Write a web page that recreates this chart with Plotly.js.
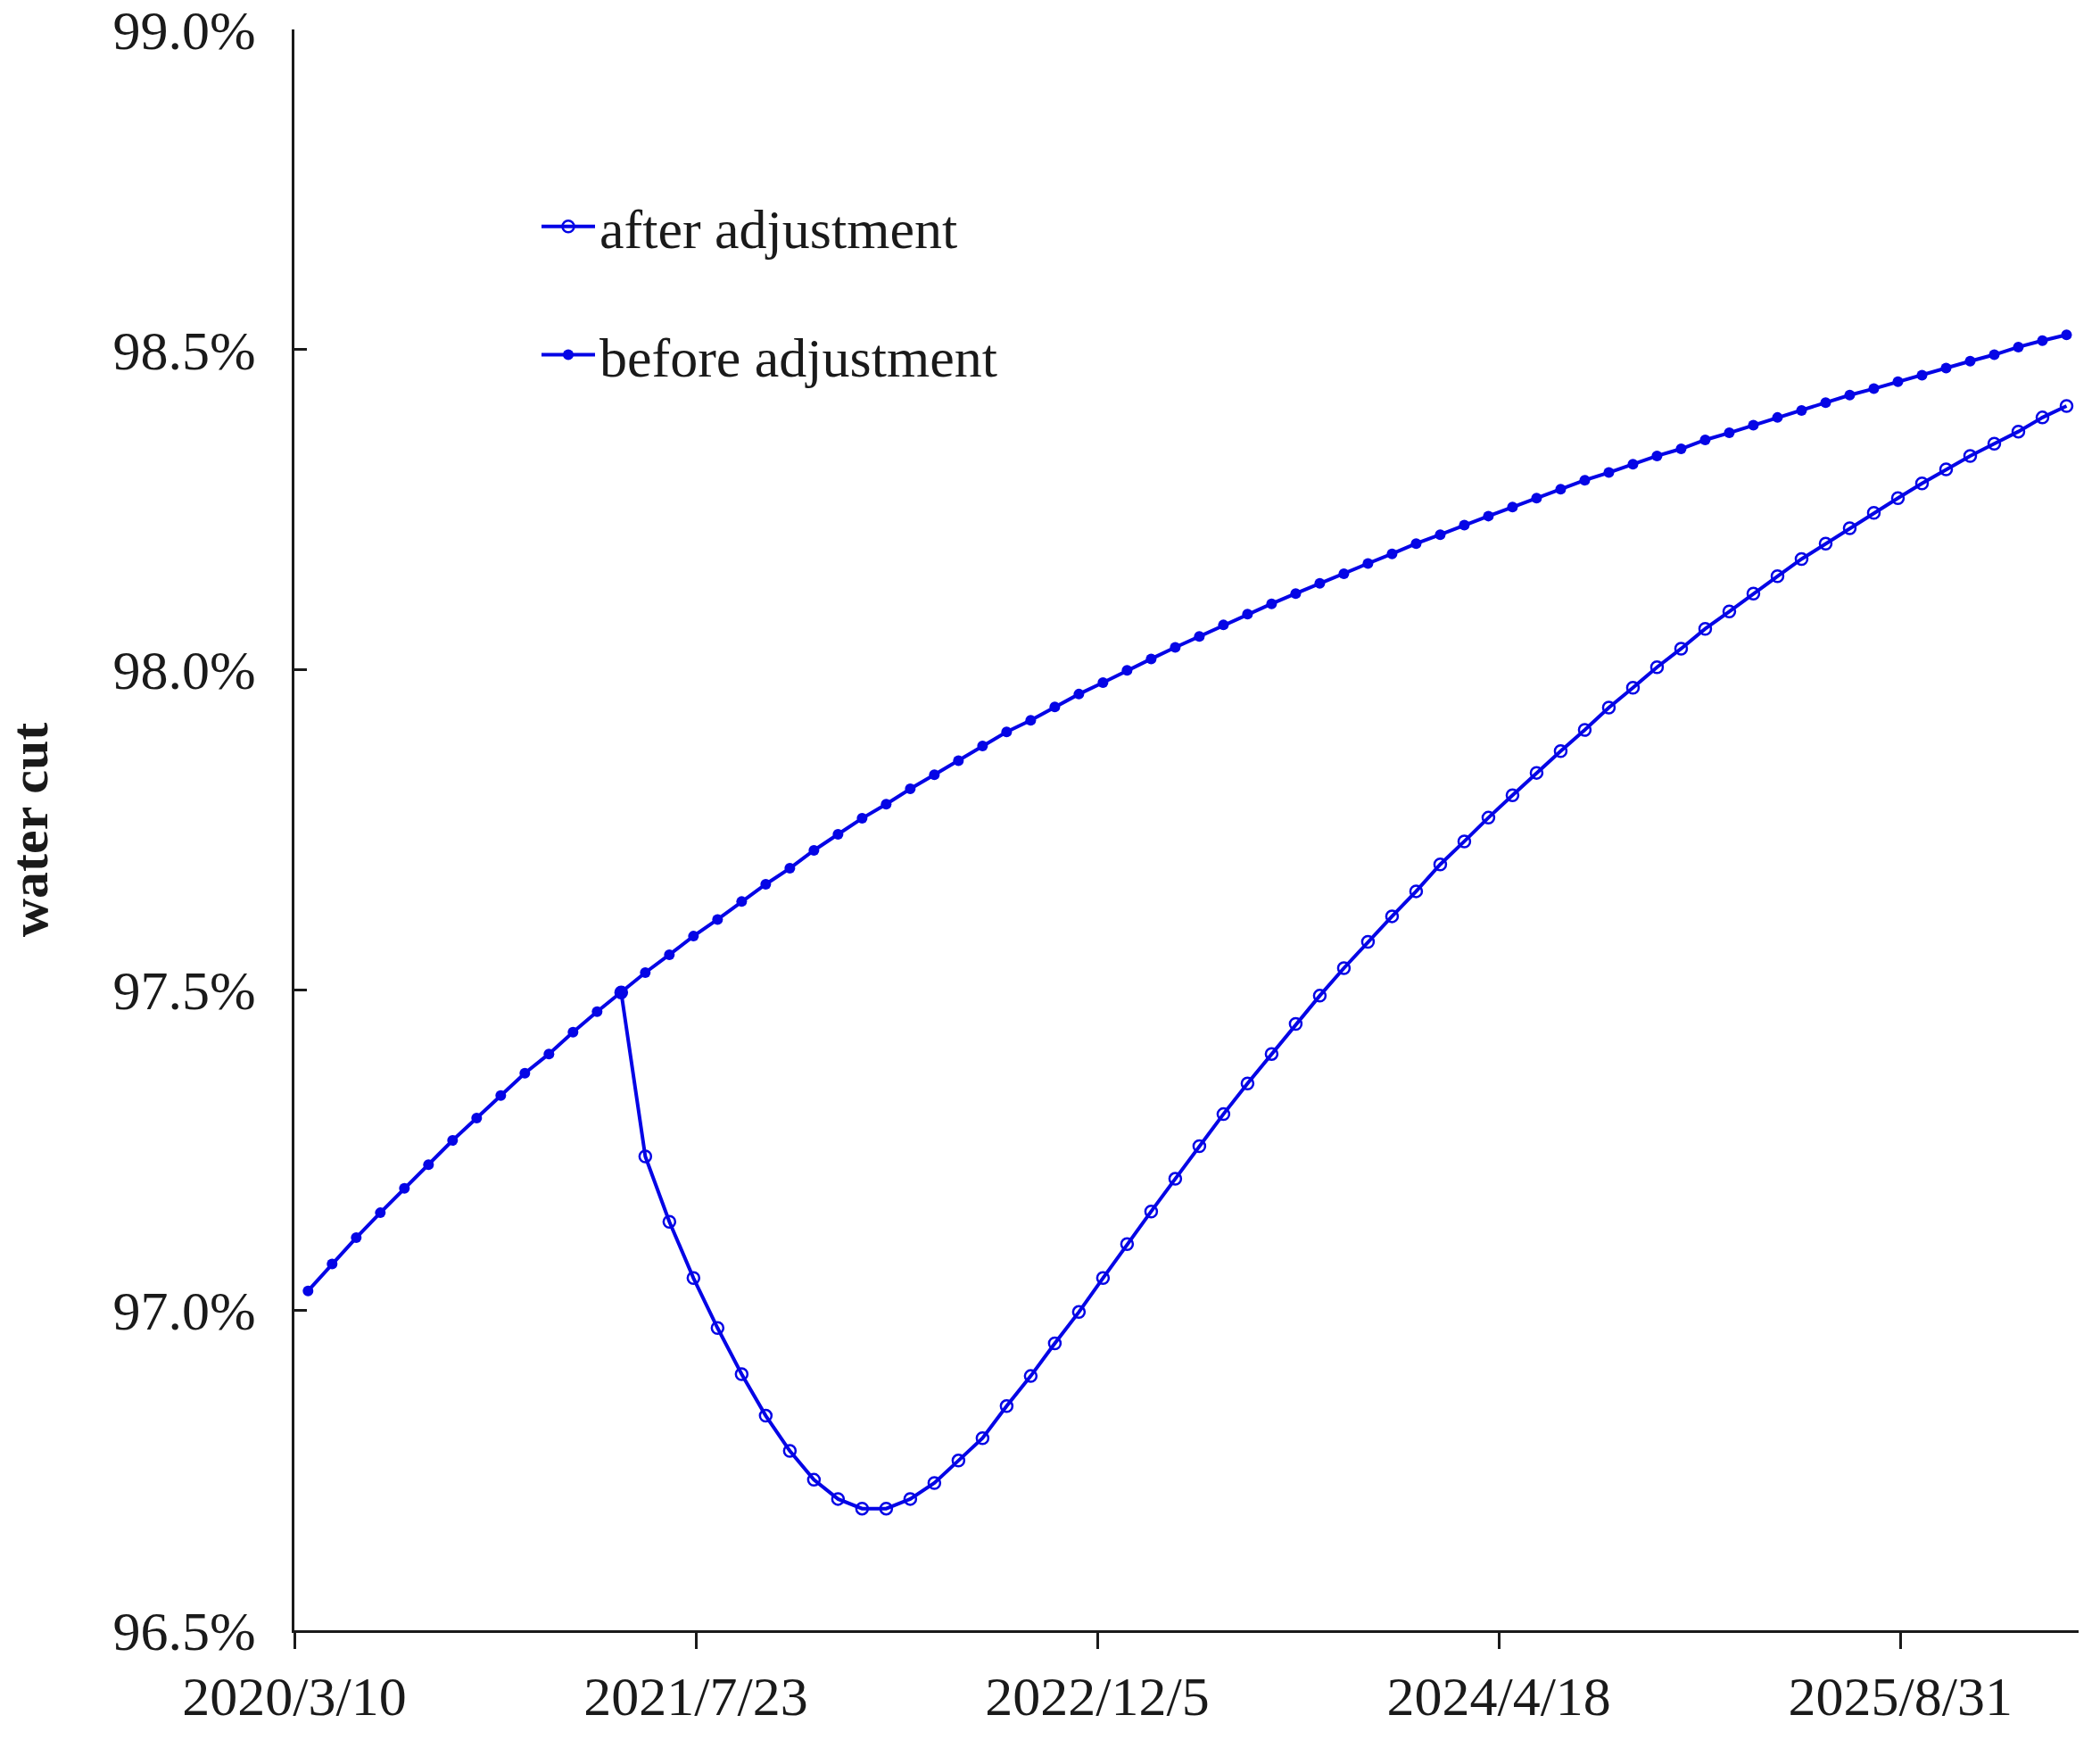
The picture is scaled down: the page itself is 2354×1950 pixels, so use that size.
<!DOCTYPE html>
<html>
<head>
<meta charset="utf-8">
<script src="https://cdn.plot.ly/plotly-3.0.1.min.js"></script>
<style>html,body{margin:0;padding:0;background:#fff;}#chart{width:2354px;height:1950px;}</style>
</head>
<body>
<div id="chart"></div>
<script>
// Sample dates (every 30 days)
const dates = [
  '2020-03-27','2020-04-26','2020-05-26','2020-06-25','2020-07-25','2020-08-24','2020-09-23','2020-10-23','2020-11-22','2020-12-22',
  '2021-01-21','2021-02-20','2021-03-22','2021-04-21','2021-05-21','2021-06-20','2021-07-20','2021-08-19','2021-09-18','2021-10-18',
  '2021-11-17','2021-12-17','2022-01-16','2022-02-15','2022-03-17','2022-04-16','2022-05-16','2022-06-15','2022-07-15','2022-08-14',
  '2022-09-13','2022-10-13','2022-11-12','2022-12-12','2023-01-11','2023-02-10','2023-03-12','2023-04-11','2023-05-11','2023-06-10',
  '2023-07-10','2023-08-09','2023-09-08','2023-10-08','2023-11-07','2023-12-07','2024-01-06','2024-02-05','2024-03-06','2024-04-05',
  '2024-05-05','2024-06-04','2024-07-04','2024-08-03','2024-09-02','2024-10-02','2024-11-01','2024-12-01','2024-12-31','2025-01-30',
  '2025-03-01','2025-03-31','2025-04-30','2025-05-30','2025-06-29','2025-07-29','2025-08-28','2025-09-27','2025-10-27','2025-11-26',
  '2025-12-26','2026-01-25','2026-02-24','2026-03-26'
];

// water cut (%) before adjustment
const beforeAdjustment = [
  97.030, 97.072, 97.113, 97.152, 97.190, 97.227, 97.265, 97.300, 97.335, 97.370,
  97.400, 97.434, 97.466, 97.496, 97.527, 97.555, 97.584, 97.610, 97.638, 97.665,
  97.690, 97.718, 97.743, 97.768, 97.790, 97.814, 97.836, 97.858, 97.881, 97.903,
  97.921, 97.942, 97.962, 97.980, 97.999, 98.017, 98.035, 98.052, 98.070, 98.087,
  98.103, 98.119, 98.135, 98.150, 98.166, 98.181, 98.197, 98.211, 98.226, 98.240,
  98.254, 98.268, 98.282, 98.296, 98.308, 98.321, 98.334, 98.345, 98.359, 98.370,
  98.382, 98.394, 98.405, 98.417, 98.429, 98.439, 98.450, 98.460, 98.471, 98.482,
  98.492, 98.504, 98.514, 98.523
];

// water cut (%) after adjustment (starts at the adjustment date)
const afterAdjustment = [
  null, null, null, null, null, null, null, null, null, null,
  null, null, null, 97.496, 97.240, 97.138, 97.050, 96.972, 96.900, 96.835,
  96.780, 96.735, 96.705, 96.690, 96.690, 96.705, 96.730, 96.765, 96.800, 96.850,
  96.897, 96.948, 96.997, 97.050, 97.103, 97.154, 97.205, 97.256, 97.306, 97.354,
  97.400, 97.447, 97.491, 97.534, 97.575, 97.615, 97.654, 97.696, 97.732, 97.769,
  97.804, 97.839, 97.873, 97.906, 97.941, 97.972, 98.004, 98.033, 98.064, 98.091,
  98.119, 98.146, 98.173, 98.197, 98.221, 98.245, 98.268, 98.291, 98.313, 98.334,
  98.353, 98.372, 98.394, 98.412
];

const seriesNames = ['after adjustment', 'before adjustment'];
const xTickVals = ['2020-03-10', '2021-07-23', '2022-12-05', '2024-04-18', '2025-08-31'];
const xTickText = ['2020/3/10', '2021/7/23', '2022/12/5', '2024/4/18', '2025/8/31'];
const yTickVals = [96.5, 97.0, 97.5, 98.0, 98.5, 99.0];
const yTickText = ['96.5%', '97.0%', '97.5%', '98.0%', '98.5%', '99.0%'];
const yTitle = 'water cut';

const BLUE = '#0505e6';
const INK = '#1a1a1a';
const FONT = 'Liberation Serif, Times New Roman, serif';

const traces = [
  {
    x: dates, y: afterAdjustment, name: seriesNames[0], legendgroup: 'a',
    type: 'scatter', mode: 'lines+markers', connectgaps: false,
    line: {color: BLUE, width: 4},
    marker: {symbol: 'circle-open', size: 13, color: BLUE, line: {width: 2.5, color: BLUE}}
  },
  {
    x: dates, y: beforeAdjustment, name: seriesNames[1], legendgroup: 'b',
    type: 'scatter', mode: 'lines+markers',
    line: {color: BLUE, width: 4},
    marker: {symbol: 'circle', size: 12, color: BLUE}
  }
];

const layout = {
  width: 2354, height: 1950,
  margin: {l: 330, r: 24, t: 33, b: 123},
  paper_bgcolor: '#fff', plot_bgcolor: '#fff',
  font: {family: FONT, color: INK, size: 60},
  showlegend: true,
  legend: {
    x: 0.136, xanchor: 'left', y: 0.903, yanchor: 'top',
    font: {family: FONT, size: 62, color: INK},
    traceorder: 'grouped', tracegroupgap: 60,
    bgcolor: 'rgba(0,0,0,0)', borderwidth: 0, itemwidth: 60
  },
  xaxis: {
    type: 'date',
    range: ['2020-03-10', '2026-04-10'],
    tickmode: 'array', tickvals: xTickVals, ticktext: xTickText,
    ticks: 'outside', ticklen: 18, tickwidth: 3, tickcolor: INK,
    showline: true, linecolor: INK, linewidth: 3,
    showgrid: false, zeroline: false,
    ticklabeloverflow: 'allow',
    tickfont: {family: FONT, size: 62, color: INK}
  },
  yaxis: {
    range: [96.5, 99.0],
    tickmode: 'array', tickvals: yTickVals, ticktext: yTickText,
    ticks: 'inside', ticklen: 14, tickwidth: 3, tickcolor: INK,
    showline: true, linecolor: INK, linewidth: 3,
    showgrid: false, zeroline: false,
    ticklabelstandoff: 28,
    ticklabeloverflow: 'allow',
    tickfont: {family: FONT, size: 62, color: INK},
    title: {text: '<b>' + yTitle + '</b>', font: {family: FONT, size: 60, color: INK}, standoff: 54}
  }
};

Plotly.newPlot('chart', traces, layout, {displayModeBar: false, staticPlot: true});
</script>
</body>
</html>
